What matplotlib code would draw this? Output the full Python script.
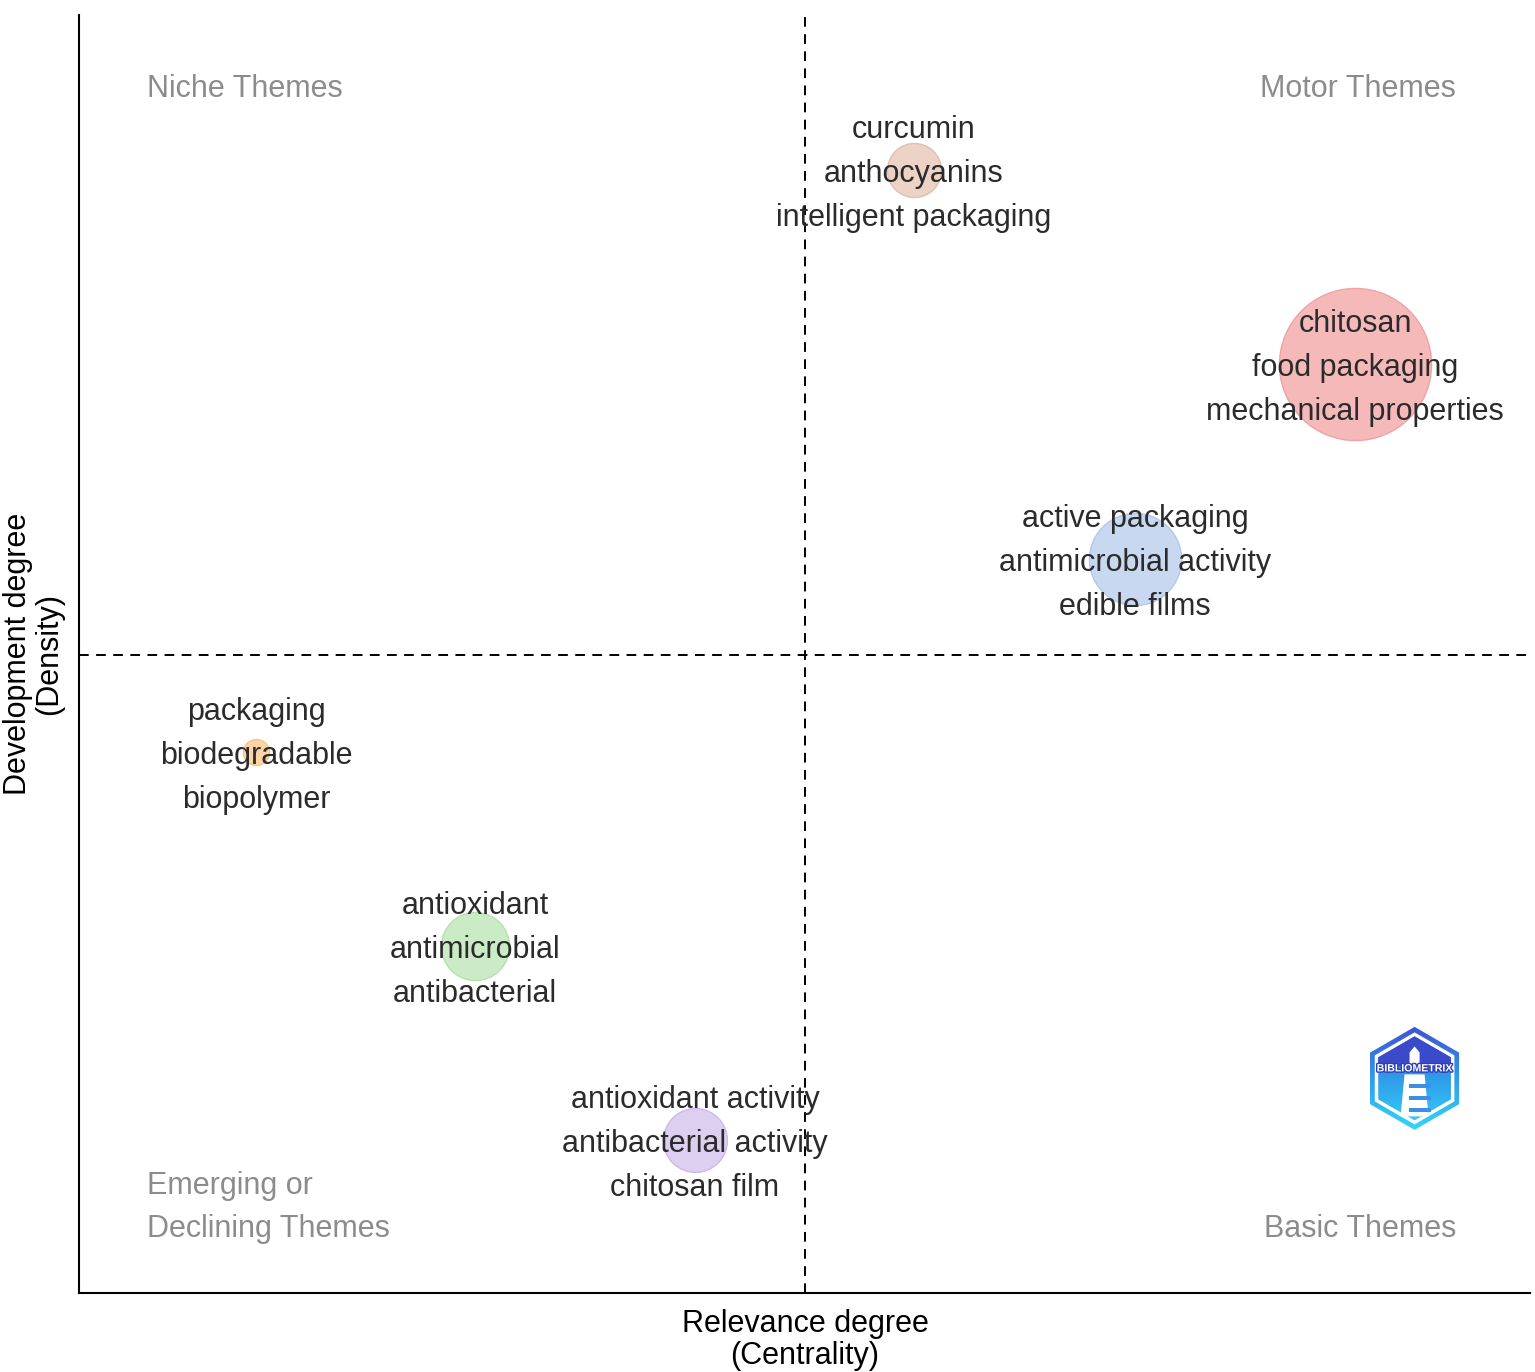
#### Thematic map (bibliometrix style) ####
import numpy as np
import matplotlib
matplotlib.use("Agg")
import matplotlib.pyplot as plt
from matplotlib.patches import Polygon
from matplotlib.colors import LinearSegmentedColormap
import matplotlib.patheffects as pe

plt.rcParams['font.family'] = ['Liberation Sans', 'DejaVu Sans']

##### Cluster data #####
centrality = [1.670, 2.552, 2.112, 0.354, 0.792, 1.232]
density = [2.246, 1.858, 1.468, 1.082, 0.694, 0.306]
freq = [73, 578, 212, 17, 116, 102]
words = [
    ["curcumin", "anthocyanins", "intelligent packaging"],
    ["chitosan", "food packaging", "mechanical properties"],
    ["active packaging", "antimicrobial activity", "edible films"],
    ["packaging", "biodegradable", "biopolymer"],
    ["antioxidant", "antimicrobial", "antibacterial"],
    ["antioxidant activity", "antibacterial activity", "chitosan film"],
]
fills = ["#edd2c6", "#f6b9ba", "#c8d8f0", "#fdd5a6", "#cbeac6", "#ddcff0"]
edges = ["#e2bfae", "#f0a2a4", "#b3c9ea", "#f9c58a", "#b6e0ae", "#cdb9ea"]

quadrants = ["Niche Themes", "Motor Themes", "Emerging or\nDeclining Themes", "Basic Themes"]
xlab = "Relevance degree\n(Centrality)"
ylab = "Development degree\n(Density)"

##### Figure #####
fig = plt.figure(figsize=(15.35, 13.72), dpi=100)
ax = fig.add_axes([0.05147, 0.05758, 0.9453, 0.9315])
ax.set_xlim(0, 2.902)
ax.set_ylim(0, 2.556)

for side in ["top", "right"]:
    ax.spines[side].set_visible(False)
for side in ["left", "bottom"]:
    ax.spines[side].set_linewidth(1.5)
ax.set_xticks([])
ax.set_yticks([])

# mean lines
ax.axvline(np.mean(centrality), color="black", lw=1.4, ls=(0, (5, 3.8)), zorder=1)
ax.axhline(np.mean(density), color="black", lw=1.4, ls=(0, (5, 3.8)), zorder=1)

# bubbles + labels
for i in range(len(centrality)):
    ax.scatter(centrality[i], density[i], s=freq[i] * 20.74, color=fills[i],
               edgecolor=edges[i], linewidth=1, zorder=2)
    for j, w in enumerate(words[i]):
        ax.annotate(w, (centrality[i], density[i]), xytext=(0, (1 - j) * 31.7 - 2.9),
                    textcoords="offset points", ha="center", va="center",
                    fontsize=22, color="#2b2b2b", zorder=3)

# quadrant names
qcol = "#8c8c8c"
em1, em2 = quadrants[2].split("\n")
ax.text(0.0469, 0.9421, quadrants[0], transform=ax.transAxes, ha="left", va="center", fontsize=22, color=qcol)
ax.text(0.949, 0.9421, quadrants[1], transform=ax.transAxes, ha="right", va="center", fontsize=22, color=qcol)
ax.text(0.0469, 0.0837, em1, transform=ax.transAxes, ha="left", va="center", fontsize=22, color=qcol)
ax.text(0.0469, 0.0501, em2, transform=ax.transAxes, ha="left", va="center", fontsize=22, color=qcol)
ax.text(0.949, 0.0501, quadrants[3], transform=ax.transAxes, ha="right", va="center", fontsize=22, color=qcol)

# axis titles
fig.text(805 / 1535, 1 - 1340 / 1372, xlab, ha="center", va="center", fontsize=22,
         multialignment="center", linespacing=1.05)
fig.text(33.5 / 1535, 1 - 654 / 1372, ylab, ha="center", va="center", fontsize=22,
         rotation=90, multialignment="center", linespacing=1.05)

##### Logo #####
lax = fig.add_axes([0.889, 0.175, 0.0651, 0.078])
lax.set_xlim(-50, 50)
lax.set_ylim(-53.5, 53.5)
lax.set_aspect("equal")
lax.axis("off")


def hexpts(R, cy=0):
    ang = np.deg2rad([90, 150, 210, 270, 330, 30])
    return np.c_[R * np.cos(ang), cy + R * np.sin(ang)]


cmap = LinearSegmentedColormap.from_list("logo", ["#4150d2", "#2f9be8", "#35d6f8"])
grad = np.linspace(0, 1, 256).reshape(-1, 1)

outer = Polygon(hexpts(51.5), closed=True, facecolor="none", edgecolor="none")
lax.add_patch(outer)
im = lax.imshow(grad, extent=(-52, 52, -52, 52), cmap=cmap, aspect="auto", origin="upper", zorder=1)
im.set_clip_path(outer)
lax.add_patch(Polygon(hexpts(46), closed=True, facecolor="white", edgecolor="none", zorder=2))
inner = Polygon(hexpts(42), closed=True, facecolor="none", edgecolor="none")
lax.add_patch(inner)
im2 = lax.imshow(grad, extent=(-52, 52, -52, 52), cmap=cmap, aspect="auto", origin="upper", zorder=3)
im2.set_clip_path(inner)

# darker roof over the upper part
lax.add_patch(Polygon([[0, 42], [-36.4, 21], [-36.4, 12], [36.4, 12], [36.4, 21]], closed=True,
                      facecolor="#3a4acb", edgecolor="none", zorder=4))

# lighthouse
lax.add_patch(Polygon([[-5, 14], [5, 14], [5, 26], [0, 32], [-5, 26]], closed=True,
                      facecolor="white", edgecolor="none", zorder=5))
lax.add_patch(Polygon([[-10, 4], [10, 4], [14, -38], [-14, -38]], closed=True,
                      facecolor="white", edgecolor="none", zorder=5))
for yy in [-6, -18, -30]:
    lax.add_patch(Polygon([[-6, yy], [16, yy], [16, yy - 4], [-6, yy - 4]], closed=True,
                          facecolor="#3a8fe6", edgecolor="none", zorder=6))
lax.text(0, 10, "BIBLIOMETRIX", ha="center", va="center", fontsize=7.6, fontweight="bold",
         color="white", zorder=7, path_effects=[pe.withStroke(linewidth=2, foreground="#2f3fb5")])

plt.savefig("out.png", dpi=100)
